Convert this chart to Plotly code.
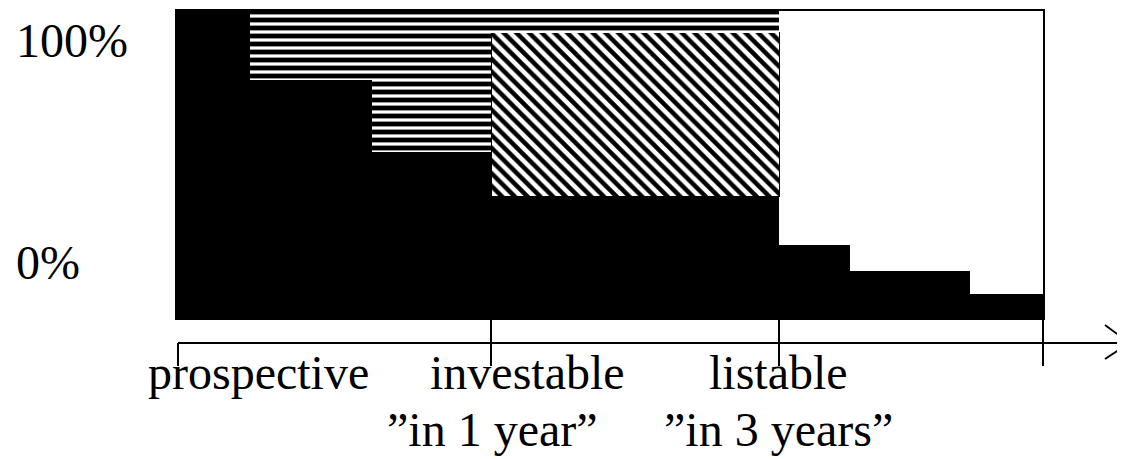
import plotly.graph_objects as go

# ---------------- data ----------------
# boundaries of the stage segments along the horizontal axis (axis units)
segment_edges = [0, 74, 196, 315, 603, 674, 794, 868]
# share shown in solid black for each segment (%)
solid_share = [100, 77.3, 54.0, 39.5, 23.9, 15.5, 7.8]
# share shown with diagonal hatching (%)
hatched_share = [0, 0, 0, 53.1, 0, 0, 0]
# share shown with horizontal stripes (%)
striped_share = [0, 22.7, 46.0, 7.4, 0, 0, 0]
# tick positions on the time axis
tick_positions = [2, 315, 603, 867]
stage_labels = ["prospective", "investable", "listable"]
stage_sublabels = ["", "\u201din 1 year\u201d", "\u201din 3 years\u201d"]
y_labels = ["100%", "0%"]

# ---------------- helpers ----------------
centers = [(a + b) / 2 for a, b in zip(segment_edges[:-1], segment_edges[1:])]
widths = [b - a for a, b in zip(segment_edges[:-1], segment_edges[1:])]

BODY = 8  # default page body margin
PX_PER_UNIT = 3.09
def yv(px):  # page px -> y units
    return 100 - (px - 10) / PX_PER_UNIT
def xv(px):  # page px -> x units
    return px - 176

FONT = dict(family="Liberation Serif, Times New Roman, serif", size=48, color="black")

fig = go.Figure()
fig.add_trace(go.Bar(x=centers, y=solid_share, width=widths,
                     marker=dict(color="black", line=dict(width=0)),
                     hoverinfo="skip", showlegend=False))
fig.add_trace(go.Bar(x=centers, y=hatched_share, width=widths,
                     marker=dict(color="white", line=dict(width=1, color="black"),
                                 pattern=dict(shape="\\", fgcolor="black", bgcolor="white",
                                              fgopacity=1, size=9, solidity=0.5)),
                     hoverinfo="skip", showlegend=False))
fig.add_trace(go.Bar(x=centers, y=striped_share, width=widths,
                     marker=dict(color="white", line=dict(width=0),
                                 pattern=dict(shape="-", fgcolor="black", bgcolor="white",
                                              fgopacity=1, size=8, solidity=0.6)),
                     hoverinfo="skip", showlegend=False))

shapes = []
shapes.append(dict(type="rect", xref="x", yref="y", x0=segment_edges[0], x1=segment_edges[-1],
                   y0=0, y1=100, line=dict(color="black", width=2), fillcolor="rgba(0,0,0,0)"))
axis_y = yv(343)
shapes.append(dict(type="line", xref="x", yref="y", x0=tick_positions[0], x1=xv(1125),
                   y0=axis_y, y1=axis_y, line=dict(color="black", width=2)))
tick_bottom = yv(366)
for i, t in enumerate(tick_positions):
    top = axis_y if i == 0 else 0
    shapes.append(dict(type="line", xref="x", yref="y", x0=t, x1=t, y0=top, y1=tick_bottom,
                       line=dict(color="black", width=2)))
shapes.append(dict(type="line", xref="x", yref="y", x0=xv(1105), x1=xv(1128),
                   y0=yv(325), y1=yv(342), line=dict(color="black", width=2)))
shapes.append(dict(type="line", xref="x", yref="y", x0=xv(1128), x1=xv(1105),
                   y0=yv(344), y1=yv(359), line=dict(color="black", width=2)))

annotations = []
for lab, py in zip(y_labels, [40, 262]):
    annotations.append(dict(text=lab, x=xv(14), y=yv(py), xref="x", yref="y",
                            xanchor="left", yanchor="middle", showarrow=False, font=FONT))
for lab, px in zip(stage_labels, [258, 527, 778]):
    annotations.append(dict(text=lab, x=xv(px), y=yv(372), xref="x", yref="y",
                            xanchor="center", yanchor="middle", showarrow=False, font=FONT))
for sub, px in zip(stage_sublabels, [None, 492, 778]):
    if sub:
        annotations.append(dict(text=sub, x=xv(px), y=yv(429), xref="x", yref="y",
                                xanchor="center", yanchor="middle", showarrow=False, font=FONT))

fig.update_layout(
    barmode="stack",
    width=1125 - BODY, height=459 - BODY,
    margin=dict(l=0, r=0, t=0, b=0),
    paper_bgcolor="white", plot_bgcolor="white",
    xaxis=dict(range=[xv(BODY), xv(1125)], visible=False, fixedrange=True),
    yaxis=dict(range=[yv(459), yv(BODY)], visible=False, fixedrange=True),
    shapes=shapes, annotations=annotations,
)

fig.write_html("out.html")
